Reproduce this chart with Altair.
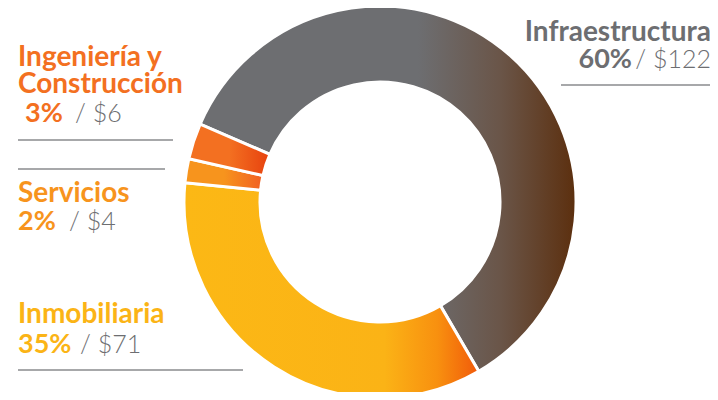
import math
import altair as alt
import pandas as pd

# ---- data ----
categories = ["Infraestructura", "Inmobiliaria", "Servicios", "Ingeniería y Construcción"]
display_names = ["Infraestructura", "Inmobiliaria", "Servicios", "Ingeniería y\nConstrucción"]
amounts = [122, 71, 4, 6]          # $ values
percents = [60, 35, 2, 3]          # share in %
slice_order = [1, 2, 3, 4]

df = pd.DataFrame({
    "cat": categories,
    "name": display_names,
    "amount": amounts,
    "pct": percents,
    "ord": slice_order,
})

# ---- style ----
FONT = "Lato"
GRAY = "#6d6e71"
LINE = "#8a8b8e"
label_colors = {
    "Infraestructura": GRAY,
    "Inmobiliaria": "#fbb416",
    "Servicios": "#f7941d",
    "Ingeniería y Construcción": "#f37021",
}

def grad(stops):
    return alt.LinearGradient(
        gradient="linear", x1=0, y1=0, x2=1, y2=0,
        stops=[alt.GradientStop(offset=o, color=c) for o, c in stops],
    )

fills = {
    "Infraestructura": grad([(0, "#6d6e71"), (0.58, "#6d6e71"), (0.8, "#6a5548"), (1, "#5c2f0e")]),
    "Inmobiliaria": grad([(0, "#fcb815"), (0.68, "#fbb316"), (0.86, "#f8900f"), (1, "#f15a0a")]),
    "Servicios": grad([(0, "#f7941d"), (0.5, "#f7941d"), (1, "#f15f22")]),
    "Ingeniería y Construcción": grad([(0, "#f37021"), (0.5, "#f37021"), (1, "#e7410e")]),
}

CX, CY = 372, 194
R_OUT, R_IN = 196, 120
start_angle = math.radians(293.4)
total = sum(amounts)

base = (
    alt.Chart(df)
    .transform_window(cum="sum(amount)", sort=[alt.SortField("ord")], frame=[None, 0])
    .transform_calculate(start="datum.cum - datum.amount",
                         pct_txt="datum.pct + '%'",
                         val_txt="'/ $' + datum.amount")
)

theta_scale = alt.Scale(domain=[0, total], range=[start_angle, start_angle + 2 * math.pi])

layers = []
for cat in categories:
    layers.append(
        base.transform_filter(alt.datum.cat == cat)
        .mark_arc(innerRadius=R_IN, outerRadius=R_OUT, fill=fills[cat],
                  stroke="white", strokeWidth=3)
        .encode(
            theta=alt.Theta("start:Q", scale=theta_scale),
            theta2="cum:Q",
            x=alt.value(CX),
            y=alt.value(CY),
        )
    )

# label layout: (align, name_xy, pct_xy, val_xy, rule x1, x2, y)
layout = {
    "Infraestructura": ("right", (703, 33), (624, 60), (703, 60), (553, 705, 77)),
    "Ingeniería y Construcción": ("left", (10, 58), (17, 114), (67, 114), (10, 165, 132)),
    "Servicios": ("left", (10, 194), (10, 222), (61, 222), (10, 157, 161)),
    "Inmobiliaria": ("left", (10, 315), (10, 345), (72, 345), (10, 235, 362)),
}

for cat, (align, nxy, pxy, vxy, rl) in layout.items():
    sub = base.transform_filter(alt.datum.cat == cat)
    col = label_colors[cat]
    layers.append(
        sub.mark_text(font=FONT, fontSize=28, fontWeight="bold", color=col,
                      align=align, baseline="alphabetic", lineBreak="\n", lineHeight=27)
        .encode(x=alt.value(nxy[0]), y=alt.value(nxy[1]), text="name:N")
    )
    layers.append(
        sub.mark_text(font=FONT, fontSize=27, fontWeight="bold", color=col,
                      align=align, baseline="alphabetic")
        .encode(x=alt.value(pxy[0]), y=alt.value(pxy[1]), text="pct_txt:N")
    )
    layers.append(
        sub.mark_text(font=FONT, fontSize=25, fontWeight=300, color=GRAY,
                      align=align, baseline="alphabetic")
        .encode(x=alt.value(vxy[0]), y=alt.value(vxy[1]), text="val_txt:N")
    )
    layers.append(
        sub.mark_rule(color=LINE, strokeWidth=1.5)
        .encode(x=alt.value(rl[0]), x2=alt.value(rl[1]), y=alt.value(rl[2]))
    )

chart = (
    alt.layer(*layers)
    .properties(width=702, height=384, autosize="none", padding=0, background="white")
    .configure_view(stroke=None)
)

chart.save("out.html", embed_options={"renderer": "svg", "actions": False})
